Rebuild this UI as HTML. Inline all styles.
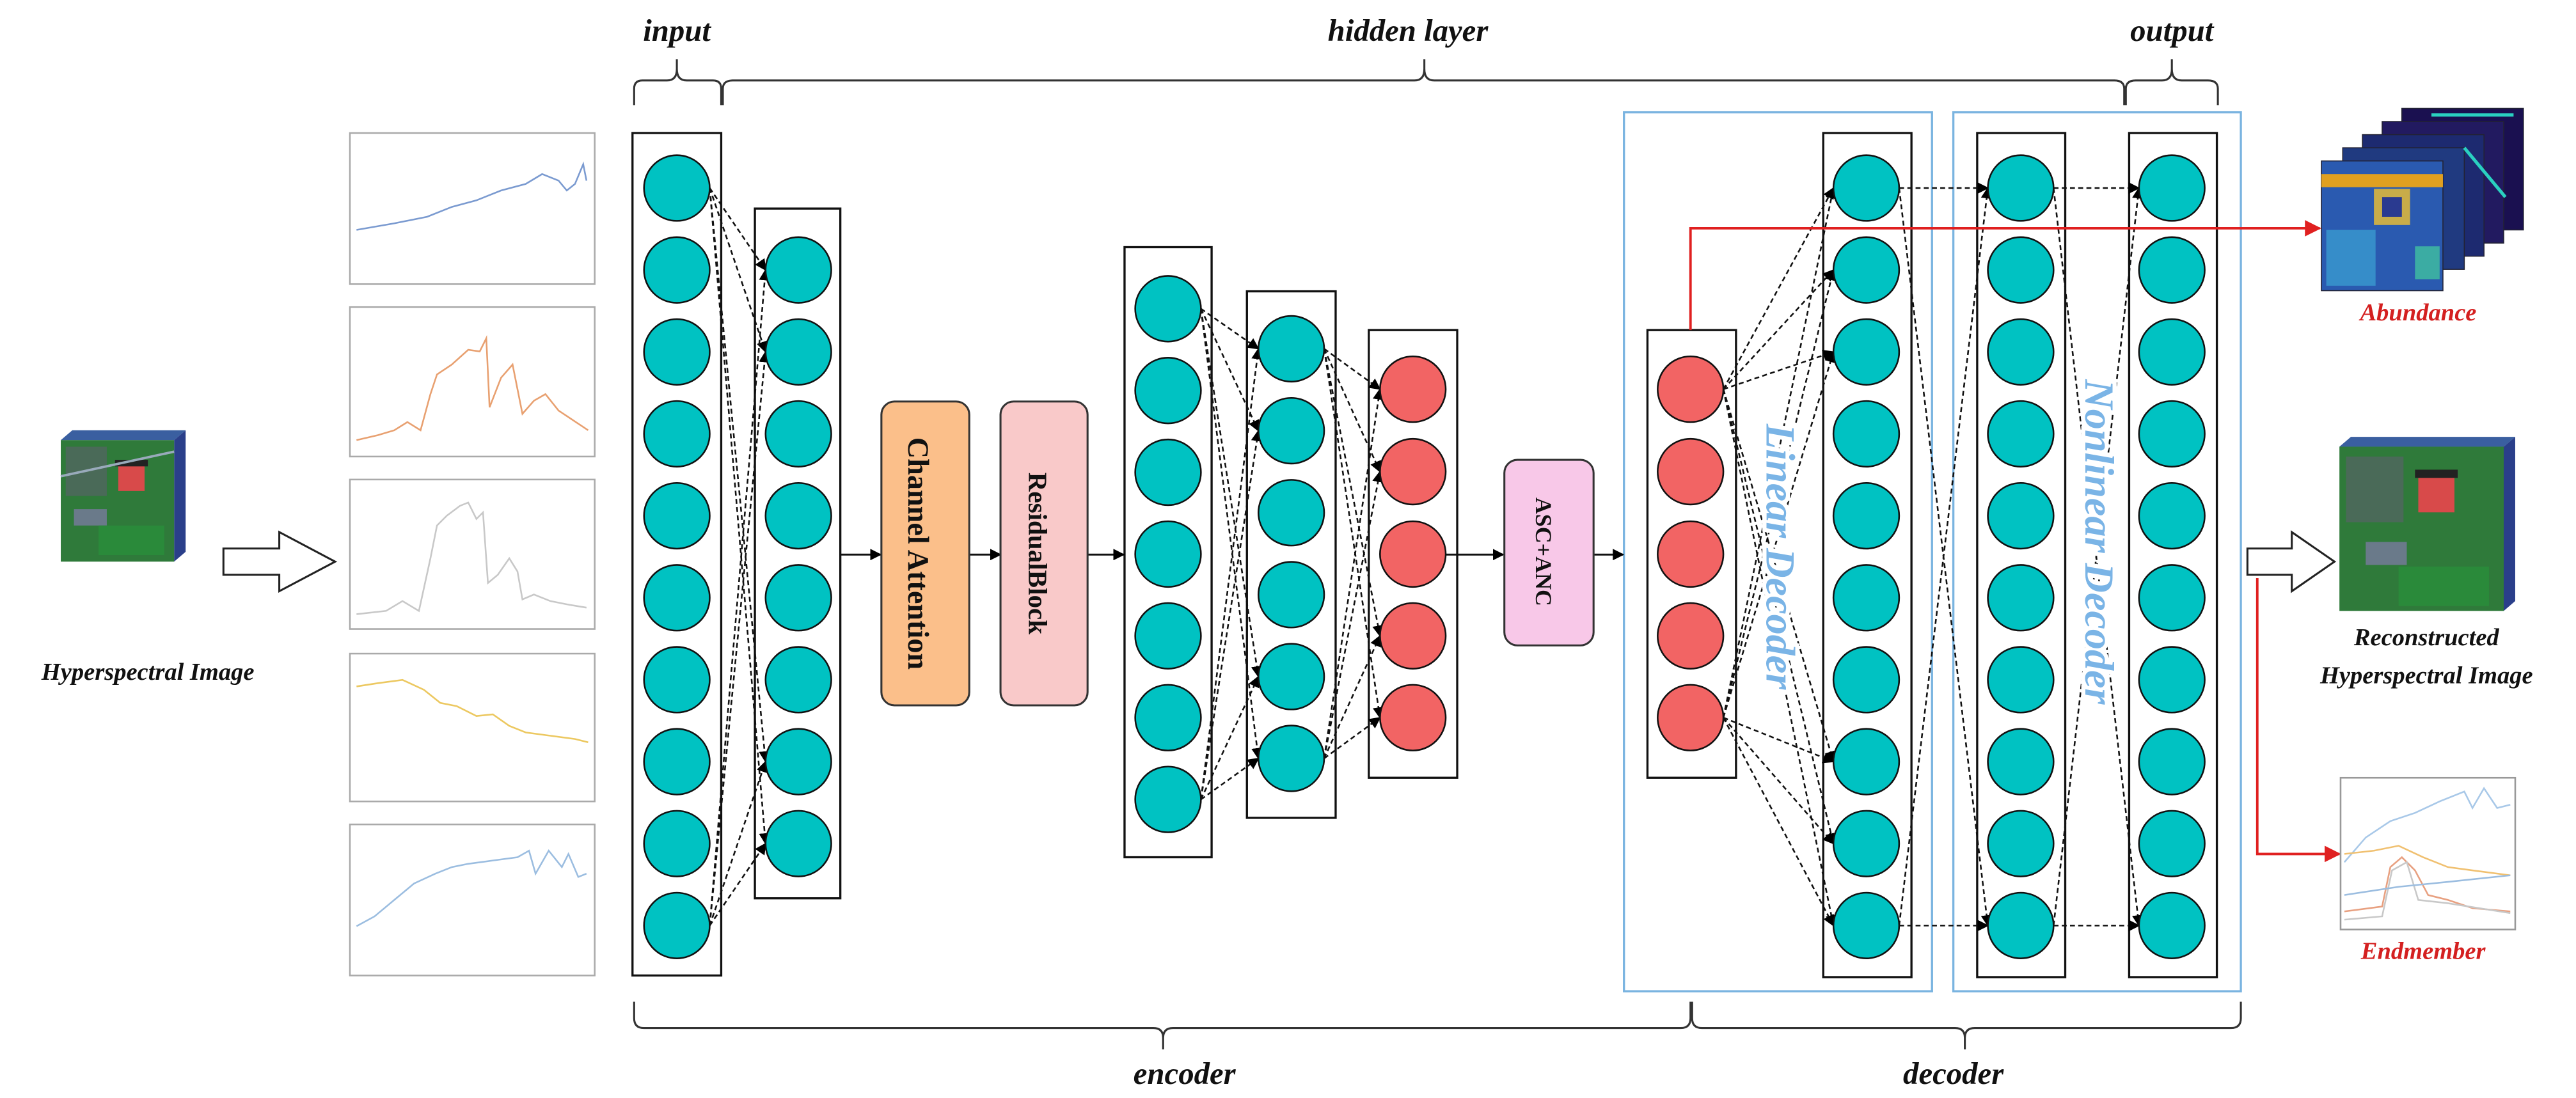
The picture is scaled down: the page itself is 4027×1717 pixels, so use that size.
<!DOCTYPE html>
<html><head><meta charset="utf-8"><style>
html,body{margin:0;padding:0;background:#fff;}
svg{display:block;}
.t{font-family:"Liberation Serif",serif;font-weight:bold;font-style:italic;}
</style></head><body>
<svg width="4027" height="1717" viewBox="0 0 1568 668.6" preserveAspectRatio="none" xmlns="http://www.w3.org/2000/svg">
<defs>
<marker id="ah" viewBox="0 0 10 10" refX="9" refY="5" markerWidth="7" markerHeight="7" markerUnits="userSpaceOnUse" orient="auto"><path d="M0,0 L10,5 L0,10 z" fill="#000"/></marker>
<marker id="ahr" viewBox="0 0 10 10" refX="9" refY="5" markerWidth="10" markerHeight="10" markerUnits="userSpaceOnUse" orient="auto"><path d="M0,0 L10,5 L0,10 z" fill="#e02020"/></marker>
</defs>
<rect width="1568" height="668.6" fill="#fff"/>

<g fill="none" stroke="#333" stroke-width="1.2">
<path d="M386,64 L386,54 Q386,49 391,49 L406,49 Q412,49 412,42 L412,36 M412,42 Q412,49 418,49 L434,49 Q439,49 439,54 L439,64"/>
<path d="M440,64 L440,54 Q440,49 446,49 L861,49 Q867,49 867,42 L867,36 M867,42 Q867,49 873,49 L1287,49 Q1293,49 1293,54 L1293,64"/>
<path d="M1294,64 L1294,54 Q1294,49 1300,49 L1316,49 Q1322,49 1322,42 L1322,36 M1322,42 Q1322,49 1328,49 L1344,49 Q1350,49 1350,54 L1350,64"/>
<path d="M386,610 L386,620 Q386,626 392,626 L702,626 Q708,626 708,632 L708,639 M708,632 Q708,626 714,626 L1023,626 Q1029,626 1029,620 L1029,610"/>
<path d="M1030,610 L1030,620 Q1030,626 1036,626 L1190,626 Q1196,626 1196,632 L1196,639 M1196,632 Q1196,626 1202,626 L1358,626 Q1364,626 1364,620 L1364,610"/>
</g>
<g class="t" font-size="19" fill="#111" text-anchor="middle">
<text x="412" y="25">input</text>
<text x="857" y="25">hidden layer</text>
<text x="1322" y="25">output</text>
<text x="721" y="660">encoder</text>
<text x="1189" y="660">decoder</text>
</g>

<g>
<polygon points="37,268 44,262 113,262 106,268" fill="#3a5fa0"/>
<polygon points="106,268 113,262 113,336 106,342" fill="#2a3f8a"/>
<rect x="37" y="268" width="69" height="74" fill="#2f7a3a"/>
<rect x="40" y="272" width="25" height="30" fill="#4a6a58"/>
<rect x="72" y="283" width="16" height="16" fill="#d84a4a"/>
<rect x="70" y="280" width="20" height="4" fill="#222"/>
<rect x="45" y="310" width="20" height="10" fill="#6a7a8a"/>
<rect x="60" y="320" width="40" height="18" fill="#2a8a3a"/>
<path d="M37,290 L106,275" stroke="#9ab" stroke-width="1.5"/>
</g>
<text class="t" x="90" y="414" font-size="15" text-anchor="middle" fill="#111">Hyperspectral Image</text>
<polygon points="136,334 170,334 170,324 204,342 170,360 170,350 136,350" fill="#fff" stroke="#222" stroke-width="1.2"/>

<g fill="#fff" stroke="#aaa" stroke-width="1">
<rect x="213" y="81" width="149" height="92"/>
<rect x="213" y="187" width="149" height="91"/>
<rect x="213" y="292" width="149" height="91"/>
<rect x="213" y="398" width="149" height="90"/>
<rect x="213" y="502" width="149" height="92"/>
</g>
<g fill="none" stroke-width="1">
<polyline stroke="#7a9ad0" points="217,140 240,136 260,132 275,126 290,122 305,116 320,112 330,106 340,110 345,116 350,112 355,100 357,110"/>
<polyline stroke="#e8a070" points="217,268 230,265 240,262 248,257 256,262 262,240 266,228 275,222 285,213 292,214 296,206 298,248 305,230 312,222 318,252 325,244 332,240 340,250 352,258 358,262"/>
<polyline stroke="#c8c8c8" points="217,374 235,372 245,366 255,372 262,340 266,320 272,314 280,308 285,306 290,316 294,312 297,355 303,350 310,340 315,348 318,365 325,362 335,366 345,368 357,370"/>
<polyline stroke="#ecc860" points="217,418 230,416 245,414 258,420 268,428 278,430 290,436 300,435 310,442 320,446 335,448 350,450 358,452"/>
<polyline stroke="#9bbde0" points="217,564 228,558 240,548 252,538 265,532 275,528 285,526 300,524 315,522 322,518 326,532 334,518 342,528 346,520 352,534 357,532"/>
</g>

<g fill="none" stroke="#111" stroke-width="1.3">
<rect x="385" y="81" width="54" height="513"/>
<rect x="459.5" y="127" width="52" height="420"/>
<rect x="684.5" y="150.5" width="53" height="371.5"/>
<rect x="759" y="177.4" width="54" height="320.6"/>
<rect x="833.2" y="201" width="53.8" height="272.6"/>
<rect x="1002.8" y="201" width="53.9" height="272.6"/>
<rect x="1109.8" y="81" width="53.7" height="514"/>
<rect x="1203.5" y="81" width="53.6" height="514"/>
<rect x="1296" y="81" width="53.4" height="514"/>
</g>
<g fill="none" stroke="#7ab4e0" stroke-width="1.3">
<rect x="988.5" y="68.4" width="187.5" height="535.2"/>
<rect x="1189" y="68.4" width="175" height="535.2"/>
</g>

<g fill="none" stroke="#111" stroke-width="1" stroke-dasharray="3,2" marker-end="url(#ah)">
<line x1="432" y1="114.5" x2="466" y2="164.4"/><line x1="432" y1="114.5" x2="466" y2="214.3"/><line x1="432" y1="114.5" x2="466" y2="463.8"/><line x1="432" y1="114.5" x2="466" y2="513.7"/>
<line x1="432" y1="563.6" x2="466" y2="164.4"/><line x1="432" y1="563.6" x2="466" y2="214.3"/><line x1="432" y1="563.6" x2="466" y2="463.8"/><line x1="432" y1="563.6" x2="466" y2="513.7"/>
<line x1="731" y1="188" x2="766" y2="212.4"/><line x1="731" y1="188" x2="766" y2="262.3"/><line x1="731" y1="188" x2="766" y2="412"/><line x1="731" y1="188" x2="766" y2="461.8"/>
<line x1="731" y1="486.8" x2="766" y2="212.4"/><line x1="731" y1="486.8" x2="766" y2="262.3"/><line x1="731" y1="486.8" x2="766" y2="412"/><line x1="731" y1="486.8" x2="766" y2="461.8"/>
<line x1="806" y1="212.4" x2="840" y2="237"/><line x1="806" y1="212.4" x2="840" y2="287.2"/><line x1="806" y1="212.4" x2="840" y2="387.2"/><line x1="806" y1="212.4" x2="840" y2="437"/>
<line x1="806" y1="461.8" x2="840" y2="237"/><line x1="806" y1="461.8" x2="840" y2="287.2"/><line x1="806" y1="461.8" x2="840" y2="387.2"/><line x1="806" y1="461.8" x2="840" y2="437"/>
<line x1="1049" y1="237" x2="1116" y2="114.5"/><line x1="1049" y1="237" x2="1116" y2="164.4"/><line x1="1049" y1="237" x2="1116" y2="214.3"/><line x1="1049" y1="237" x2="1116" y2="463.8"/><line x1="1049" y1="237" x2="1116" y2="513.7"/><line x1="1049" y1="237" x2="1116" y2="563.6"/>
<line x1="1049" y1="437" x2="1116" y2="114.5"/><line x1="1049" y1="437" x2="1116" y2="164.4"/><line x1="1049" y1="437" x2="1116" y2="214.3"/><line x1="1049" y1="437" x2="1116" y2="463.8"/><line x1="1049" y1="437" x2="1116" y2="513.7"/><line x1="1049" y1="437" x2="1116" y2="563.6"/>
<line x1="1156" y1="114.5" x2="1210" y2="114.5"/><line x1="1156" y1="114.5" x2="1210" y2="563.6"/><line x1="1156" y1="563.6" x2="1210" y2="114.5"/><line x1="1156" y1="563.6" x2="1210" y2="563.6"/>
<line x1="1250" y1="114.5" x2="1302" y2="114.5"/><line x1="1250" y1="114.5" x2="1302" y2="563.6"/><line x1="1250" y1="563.6" x2="1302" y2="114.5"/><line x1="1250" y1="563.6" x2="1302" y2="563.6"/>
</g>

<g class="t" fill="#7ab4e6" text-anchor="middle" stroke="#fff" stroke-width="5" paint-order="stroke" font-weight="normal">
<text transform="translate(1081,339) rotate(90)" font-size="25" dominant-baseline="middle" font-weight="bold">Linear Decoder</text>
<text transform="translate(1275,330) rotate(90)" font-size="25" dominant-baseline="middle" font-weight="bold">Nonlinear Decoder</text>
</g>

<g fill="#00c2c2" stroke="#111" stroke-width="1">
<circle cx="412" cy="114.5" r="20"/><circle cx="412" cy="164.4" r="20"/><circle cx="412" cy="214.3" r="20"/><circle cx="412" cy="264.2" r="20"/><circle cx="412" cy="314.1" r="20"/><circle cx="412" cy="364" r="20"/><circle cx="412" cy="413.9" r="20"/><circle cx="412" cy="463.8" r="20"/><circle cx="412" cy="513.7" r="20"/><circle cx="412" cy="563.6" r="20"/>
<circle cx="486" cy="164.4" r="20"/><circle cx="486" cy="214.3" r="20"/><circle cx="486" cy="264.2" r="20"/><circle cx="486" cy="314.1" r="20"/><circle cx="486" cy="364" r="20"/><circle cx="486" cy="413.9" r="20"/><circle cx="486" cy="463.8" r="20"/><circle cx="486" cy="513.7" r="20"/>
<circle cx="711" cy="188" r="20"/><circle cx="711" cy="237.8" r="20"/><circle cx="711" cy="287.6" r="20"/><circle cx="711" cy="337.4" r="20"/><circle cx="711" cy="387.2" r="20"/><circle cx="711" cy="437" r="20"/><circle cx="711" cy="486.8" r="20"/>
<circle cx="786" cy="212.4" r="20"/><circle cx="786" cy="262.3" r="20"/><circle cx="786" cy="312.2" r="20"/><circle cx="786" cy="362.1" r="20"/><circle cx="786" cy="412" r="20"/><circle cx="786" cy="461.8" r="20"/>
<circle cx="1136" cy="114.5" r="20"/><circle cx="1136" cy="164.4" r="20"/><circle cx="1136" cy="214.3" r="20"/><circle cx="1136" cy="264.2" r="20"/><circle cx="1136" cy="314.1" r="20"/><circle cx="1136" cy="364" r="20"/><circle cx="1136" cy="413.9" r="20"/><circle cx="1136" cy="463.8" r="20"/><circle cx="1136" cy="513.7" r="20"/><circle cx="1136" cy="563.6" r="20"/>
<circle cx="1230" cy="114.5" r="20"/><circle cx="1230" cy="164.4" r="20"/><circle cx="1230" cy="214.3" r="20"/><circle cx="1230" cy="264.2" r="20"/><circle cx="1230" cy="314.1" r="20"/><circle cx="1230" cy="364" r="20"/><circle cx="1230" cy="413.9" r="20"/><circle cx="1230" cy="463.8" r="20"/><circle cx="1230" cy="513.7" r="20"/><circle cx="1230" cy="563.6" r="20"/>
<circle cx="1322" cy="114.5" r="20"/><circle cx="1322" cy="164.4" r="20"/><circle cx="1322" cy="214.3" r="20"/><circle cx="1322" cy="264.2" r="20"/><circle cx="1322" cy="314.1" r="20"/><circle cx="1322" cy="364" r="20"/><circle cx="1322" cy="413.9" r="20"/><circle cx="1322" cy="463.8" r="20"/><circle cx="1322" cy="513.7" r="20"/><circle cx="1322" cy="563.6" r="20"/>
</g>
<g fill="#f26464" stroke="#111" stroke-width="1">
<circle cx="860" cy="237" r="20"/><circle cx="860" cy="287.2" r="20"/><circle cx="860" cy="337.4" r="20"/><circle cx="860" cy="387.2" r="20"/><circle cx="860" cy="437" r="20"/>
<circle cx="1029" cy="237" r="20"/><circle cx="1029" cy="287.2" r="20"/><circle cx="1029" cy="337.4" r="20"/><circle cx="1029" cy="387.2" r="20"/><circle cx="1029" cy="437" r="20"/>
</g>

<g stroke="#111" stroke-width="1.2" marker-end="url(#ah)">
<line x1="512" y1="337.7" x2="536" y2="337.7"/>
<line x1="590" y1="337.7" x2="609" y2="337.7"/>
<line x1="662" y1="337.7" x2="684" y2="337.7"/>
<line x1="880" y1="337.7" x2="915" y2="337.7"/>
<line x1="970" y1="337.7" x2="988" y2="337.7"/>
</g>

<rect x="536.5" y="244.5" width="53.5" height="185" rx="8" fill="#fbbf8a" stroke="#333" stroke-width="1.2"/>
<rect x="609" y="244.5" width="53" height="185" rx="8" fill="#f9c9c9" stroke="#333" stroke-width="1.2"/>
<rect x="915.7" y="280" width="54.3" height="113" rx="8" fill="#f8c8e8" stroke="#333" stroke-width="1.2"/>
<g font-family="Liberation Serif, serif" font-weight="bold" fill="#111" text-anchor="middle">
<text transform="translate(557,337) rotate(90)" font-size="18" dominant-baseline="middle">Channel Attention</text>
<text transform="translate(630,337) rotate(90)" font-size="16" dominant-baseline="middle">ResidualBlock</text>
<text transform="translate(938,336) rotate(90)" font-size="14" dominant-baseline="middle">ASC+ANC</text>
</g>

<polyline points="1029,201 1029,139 1412,139" fill="none" stroke="#e02020" stroke-width="1.5" marker-end="url(#ahr)"/>
<g stroke="#223" stroke-width="0.6">
<rect x="1462" y="66" width="74" height="74" fill="#1a1050"/>
<rect x="1450" y="74" width="74" height="74" fill="#221a60"/>
<rect x="1438" y="82" width="74" height="74" fill="#1d2a70"/>
<rect x="1426" y="90" width="74" height="74" fill="#203a80"/>
<rect x="1413" y="98" width="74" height="79" fill="#2a5ab0"/>
</g>
<rect x="1413" y="106" width="74" height="8" fill="#e0a020"/>
<rect x="1445" y="115" width="22" height="22" fill="#f0c030" opacity="0.8"/>
<rect x="1450" y="120" width="12" height="12" fill="#2a3a90"/>
<rect x="1416" y="140" width="30" height="34" fill="#3a9ad0" opacity="0.8"/>
<rect x="1470" y="150" width="15" height="20" fill="#40c0a0" opacity="0.8"/>
<path d="M1480,70 L1530,70 M1500,90 L1525,120" stroke="#2ad0c0" stroke-width="2"/>
<text class="t" x="1472" y="195" font-size="15" text-anchor="middle" fill="#d42020">Abundance</text>

<polygon points="1424,272 1431,266 1531,266 1524,272" fill="#3a5fa0"/>
<polygon points="1524,272 1531,266 1531,366 1524,372" fill="#2a3f8a"/>
<rect x="1424" y="272" width="100" height="100" fill="#2f7a3a"/>
<rect x="1428" y="278" width="35" height="40" fill="#4a6a58"/>
<rect x="1472" y="290" width="22" height="22" fill="#d84a4a"/>
<rect x="1470" y="286" width="26" height="5" fill="#222"/>
<rect x="1440" y="330" width="25" height="14" fill="#6a7a8a"/>
<rect x="1460" y="345" width="55" height="24" fill="#2a8a3a"/>
<text class="t" x="1477" y="393" font-size="15" text-anchor="middle" fill="#111">Reconstructed</text>
<text class="t" x="1477" y="416" font-size="15" text-anchor="middle" fill="#111">Hyperspectral Image</text>
<polygon points="1368,334 1395,334 1395,324 1421,342 1395,360 1395,350 1368,350" fill="#fff" stroke="#222" stroke-width="1.2"/>
<polyline points="1374,352 1374,520 1424,520" fill="none" stroke="#e02020" stroke-width="1.5" marker-end="url(#ahr)"/>
<rect x="1424.7" y="473.6" width="106.3" height="92.4" fill="#fff" stroke="#999" stroke-width="1"/>
<g fill="none" stroke-width="1">
<polyline stroke="#a8c8e8" points="1427,525 1440,510 1455,500 1470,495 1485,488 1500,482 1505,492 1512,480 1520,492 1528,490"/>
<polyline stroke="#f0c070" points="1427,520 1445,518 1460,515 1475,522 1490,528 1505,530 1528,533"/>
<polyline stroke="#e8a080" points="1427,555 1450,552 1455,528 1462,522 1470,530 1478,545 1490,548 1505,553 1528,555"/>
<polyline stroke="#c8c8c8" points="1427,560 1450,558 1456,530 1465,525 1472,548 1490,550 1528,556"/>
<polyline stroke="#9bbde0" points="1427,545 1460,540 1490,537 1528,533"/>
</g>
<text class="t" x="1475" y="584" font-size="15" text-anchor="middle" fill="#d42020">Endmember</text>
</svg>
</body></html>
